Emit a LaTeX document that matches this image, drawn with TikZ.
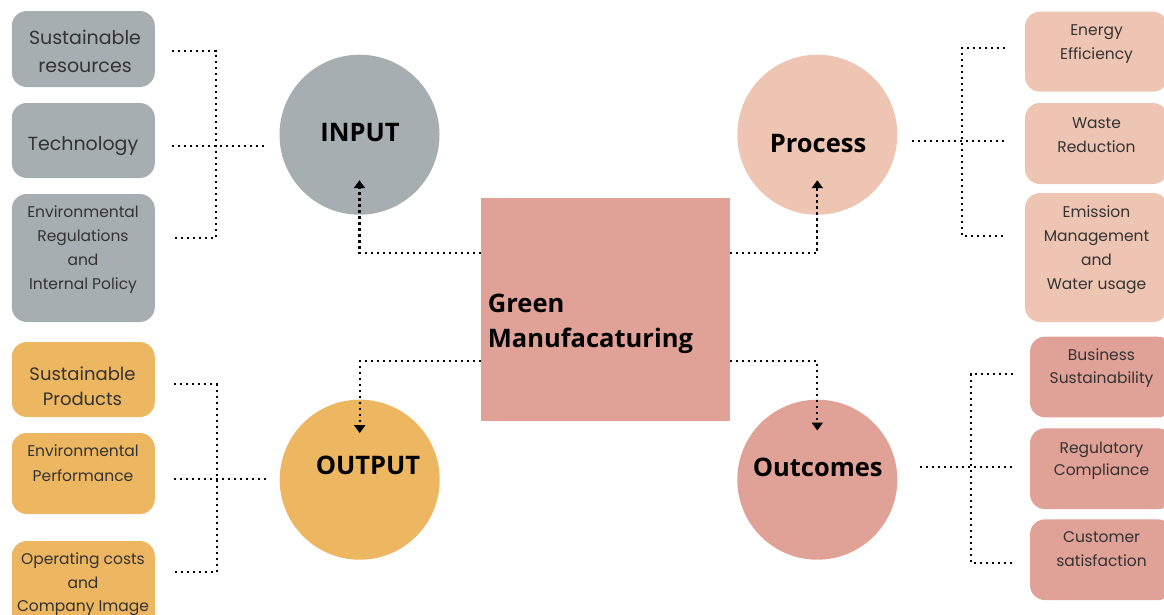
\documentclass[tikz,border=0pt]{standalone}
\usepackage{fontspec}
\setmainfont{Poppins}
\newfontfamily\headfont{Open Sans}
\usetikzlibrary{arrows.meta,calc}

\definecolor{slate}{HTML}{A6AEB2}
\definecolor{peach}{HTML}{EEC4B2}
\definecolor{amber}{HTML}{EDB660}
\definecolor{rose}{HTML}{E0A197}
\definecolor{ink}{HTML}{333333}

\tikzset{
  leaf/.style={rounded corners=15pt, minimum width=143pt, inner sep=0pt, draw=none},
  hub/.style={circle, minimum size=160pt, inner sep=0pt, draw=none},
  big/.style={text=ink, align=center, anchor=base, inner sep=0pt, font=\fontsize{19}{28}\selectfont},
  small/.style={text=ink, align=center, anchor=base, inner sep=0pt, font=\fontsize{15.5}{24}\selectfont},
  head/.style={text=black, anchor=base, inner sep=0pt, font=\headfont\bfseries\fontsize{25.5}{35}\selectfont},
  dots/.style={line width=2.1pt, dash pattern=on 2.1pt off 3.9pt},
  tip/.style={-{Triangle[width=11pt,length=8pt]}}
}

\begin{document}
\begin{tikzpicture}[x=1pt,y=-1pt]
\useasboundingbox (0,0) rectangle (1164,614);

% central block (multi-line texts are placed by the baseline of their last line)
\node[fill=rose, minimum width=249pt, minimum height=223pt, inner sep=0pt] (gm) at (605.4,309) {};
\node[head, anchor=base west, align=left] (gmt) at (487.7,347.7) {Green\\Manufacaturing};

% four hubs
\node[hub, fill=slate] (input) at (359.5,134.7) {};
\node[hub, fill=peach] (process) at (817.3,134.7) {};
\node[hub, fill=amber] (output) at (359.7,479.7) {};
\node[hub, fill=rose] (outcomes) at (817.3,479.7) {};
\node[head] at (360,141.7) {INPUT};
\node[head] at (818,152.7) {Process};
\node[head] at (368,474) {OUTPUT};
\node[head] at (817.7,476.7) {Outcomes};

% links from the block to the hubs
\draw[dots, tip] ([yshift=55.7pt]gm.west) -| ([yshift=34.7pt]input.south);
\draw[dots, tip] ([yshift=55.7pt]gm.east) -| ([yshift=34.7pt]process.south);
\draw[dots, tip] ([yshift=-51.7pt]gm.west) -| ([yshift=-33.6pt]output.north);
\draw[dots, tip] ([yshift=-51.7pt]gm.east) -| ([yshift=-31pt]outcomes.north);

% input factors
\node[leaf, fill=slate, minimum height=76pt] (g1) at (83.3,49) {};
\node[leaf, fill=slate, minimum height=75pt] (g2) at (83.3,140.5) {};
\node[leaf, fill=slate, minimum height=128pt] (g3) at (83.3,258) {};
\node[big] at (85,72) {Sustainable\\resources};
\node[big] at (83,150.7) {Technology};
\node[small] at (83,289) {Environmental\\Regulations\\and\\Internal Policy};

% output factors
\node[leaf, fill=amber, minimum height=75pt] (o1) at (83.3,379.5) {};
\node[leaf, fill=amber, minimum height=81pt] (o2) at (83.3,473.5) {};
\node[leaf, fill=amber, minimum height=100pt] (o3) at (83.3,591) {};
\node[big, font=\fontsize{18}{25}\selectfont] at (82.5,405) {Sustainable\\Products};
\node[small, font=\fontsize{15.5}{24.5}\selectfont] at (83,481) {Environmental\\Performance};
\node[small, font=\fontsize{15.5}{23.5}\selectfont] at (83,611.7) {Operating costs\\and\\Company Image};

% process factors
\node[leaf, fill=peach, minimum height=80pt] (p1) at (1096.5,51.7) {};
\node[leaf, fill=peach, minimum height=81pt] (p2) at (1096.5,143.5) {};
\node[leaf, fill=peach, minimum height=129pt] (p3) at (1096.5,257.5) {};
\node[small] at (1096.5,59.3) {Energy\\Efficiency};
\node[small] at (1096.5,152.3) {Waste\\Reduction};
\node[small] at (1096.5,289.3) {Emission\\Management\\and\\Water usage};

% outcome factors
\node[leaf, fill=rose, minimum height=80.6pt] (r1) at (1101.5,377) {};
\node[leaf, fill=rose, minimum height=80.7pt] (r2) at (1101.5,468.7) {};
\node[leaf, fill=rose, minimum height=80.7pt] (r3) at (1101.5,559.7) {};
\node[small, font=\fontsize{15.5}{23.3}\selectfont] at (1101.5,383.3) {Business\\Sustainability};
\node[small, font=\fontsize{15.5}{22}\selectfont] at (1101.5,475) {Regulatory\\Compliance};
\node[small] at (1101.5,566.7) {Customer\\satisfaction};

% bracket joints
\coordinate (ia) at (172,51);    \coordinate (ib) at (172,145.7);
\coordinate (ic) at (172,238.3); \coordinate (ij) at (215.7,145.7);
\coordinate (im) at (266,145.7);
\coordinate (oa) at (174,384.3); \coordinate (ob) at (174,479.3);
\coordinate (oc) at (174,572.3); \coordinate (oj) at (216.7,479.3);
\coordinate (om) at (268,479.3);
\coordinate (pa) at (1005,47.7);  \coordinate (pb) at (1005,141);
\coordinate (pc) at (1005,236);   \coordinate (pj) at (962.3,141);
\coordinate (pm) at (912.3,141);
\coordinate (ra) at (1013,374);   \coordinate (rb) at (1013,467);
\coordinate (rc) at (1013,562.7); \coordinate (rj) at (970.7,467);
\coordinate (rm) at (920,467);

% brackets
\draw[dots] (ia) -- (ia -| ij) -- (ic -| ij) -- (ic);
\draw[dots] (ib) -- (im);
\draw[dots] (oa) -- (oa -| oj) -- (oc -| oj) -- (oc);
\draw[dots] (ob) -- (om);
\draw[dots] (pa) -- (pa -| pj) -- (pc -| pj) -- (pc);
\draw[dots] (pm) -- (pb);
\draw[dots] (ra) -- (ra -| rj) -- (rc -| rj) -- (rc);
\draw[dots] (rm) -- (rb);
\end{tikzpicture}
\end{document}
